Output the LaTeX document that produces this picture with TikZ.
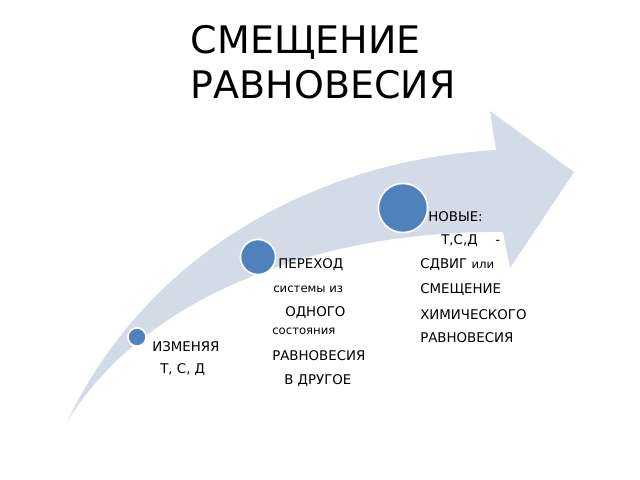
\documentclass[tikz,border=0pt]{standalone}
\usepackage{fontspec}
\setmainfont{DejaVu Sans}
\usetikzlibrary{positioning}
\definecolor{arrowfill}{HTML}{D3DAE8}
\definecolor{dotblue}{HTML}{4F81BD}
\begin{document}
\begin{tikzpicture}[x=0.025cm,y=-0.025cm]
  \tikzstyle{dot}=[circle,draw=white,very thick,fill=dotblue,inner sep=0pt]
  \tikzstyle{txt}=[anchor=west,inner sep=0pt,font=\fontsize{9.5}{11}\selectfont]
  \tikzstyle{sm}=[anchor=west,inner sep=0pt,font=\fontsize{8.3}{10}\selectfont]
  \useasboundingbox (0,0) rectangle (640,480);
  % Title
  \node[anchor=west,align=left,font=\fontsize{27}{32}\selectfont] (title) at (186,62) {СМЕЩЕНИЕ\\РАВНОВЕСИЯ};

  % Arrow
  \fill[arrowfill] (68,420) .. controls (150,250) and (320,160) .. (496,150)
    -- (490,111) -- (574,172) -- (510,268) -- (503,232)
    .. controls (330,230) and (150,290) .. (68,420) -- cycle;

  % Dots
  \node[dot,minimum size=13pt] (d1) at (137,337) {};
  \node[dot,minimum size=25pt] (d2) at (258,257) {};
  \node[dot,minimum size=35pt] (d3) at (403,208) {};

  % Step 1
  \node[txt] (a1) at (152,347) {ИЗМЕНЯЯ};
  \node[txt] (a2) at (160,370) {Т, С, Д};
  % Step 2
  \node[txt] (b1) at (278,265) {ПЕРЕХОД};
  \node[sm]  (b2) at (273,289) {системы из};
  \node[txt] (b3) at (285,313) {ОДНОГО};
  \node[sm]  (b4) at (272,331) {состояния};
  \node[txt] (b5) at (272,356) {РАВНОВЕСИЯ};
  \node[txt] (b6) at (284,381) {В ДРУГОЕ};
  % Step 3
  \node[txt] (c1) at (428,217) {НОВЫЕ:};
  \node[txt] (c2) at (441,241) {Т,С,Д\quad\ -};
  \node[txt] (c3) at (420,265) {СДВИГ {\fontsize{8.3}{10}\selectfont или}};
  \node[txt] (c4) at (420,290) {СМЕЩЕНИЕ};
  \node[txt] (c5) at (420,315) {ХИМИЧЕСКОГО};
  \node[txt] (c6) at (420,338) {РАВНОВЕСИЯ};
\end{tikzpicture}
\end{document}
